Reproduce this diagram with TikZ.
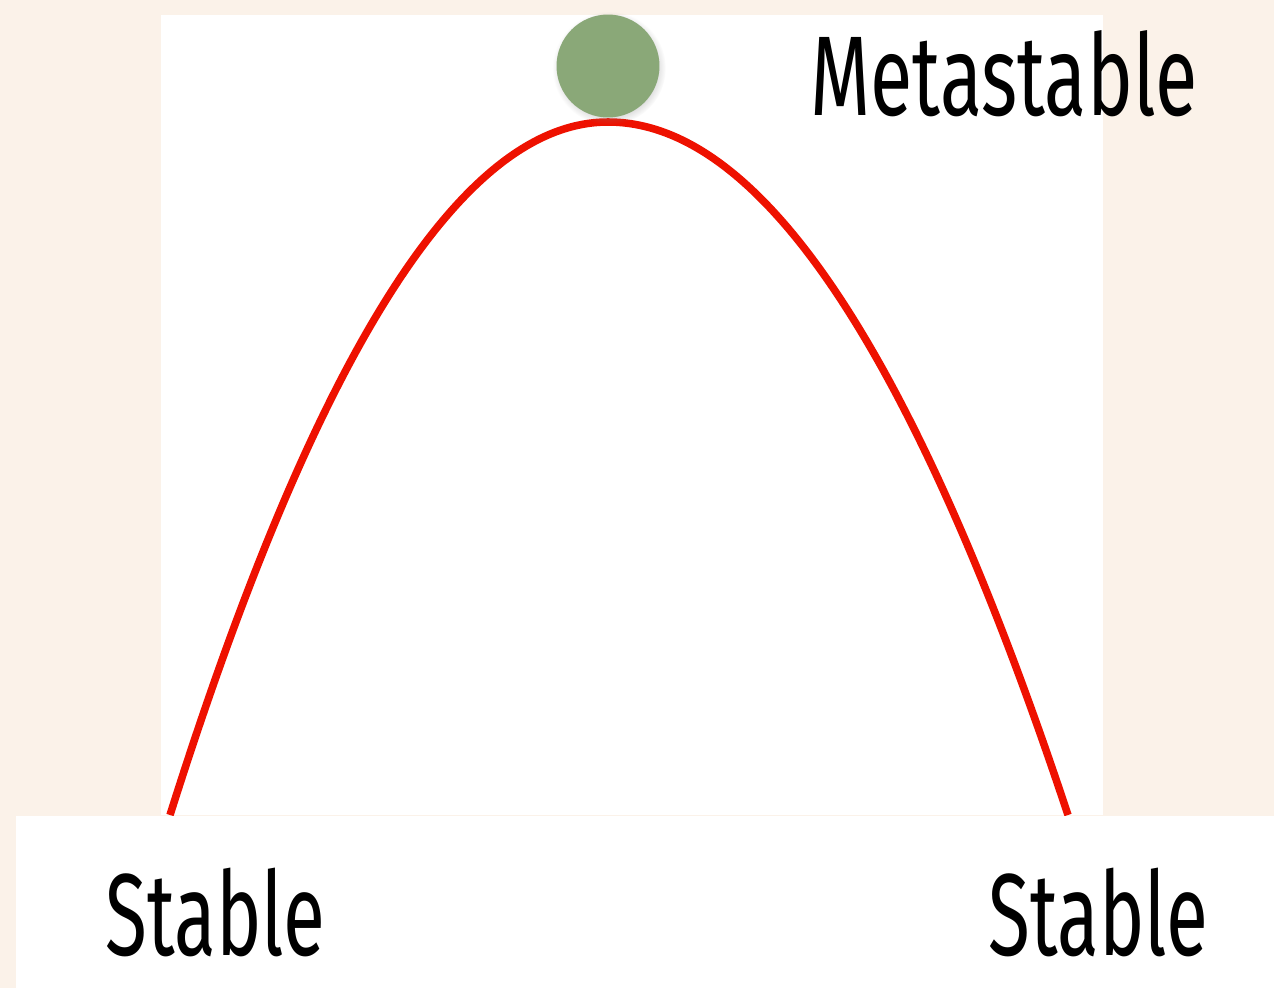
\documentclass[tikz,border=0pt]{standalone}
\usepackage{fontspec}
\setmainfont{Fira Sans}
\usepackage{graphicx}
\usetikzlibrary{shadows}
\definecolor{paper}{HTML}{FBF2E9}
\definecolor{curvered}{HTML}{EE1100}
\definecolor{ballgreen}{HTML}{8AA878}

\begin{document}
\begin{tikzpicture}[
  x=0.02cm, y=-0.02cm,
  panel/.style={fill=white, draw=none},
  ball/.style={circle, fill=ballgreen, minimum size=2.06cm, inner sep=0pt,
               circular drop shadow={shadow xshift=0.02cm, shadow yshift=-0.04cm, opacity=0.25}},
  curve/.style={curvered, line width=4.3pt},
  lbl/.style={inner sep=0pt, anchor=base west}
]
\fill[paper] (0,0) rectangle (1274,988);
\useasboundingbox (0,0) rectangle (1274,988);
\fill[panel] (161,15) rectangle (1103,815);
% energy curve
\draw[curve] plot[domain=-438:0, samples=60, smooth] ({608+\x}, {122+693*(\x/438)^2})
  -- plot[domain=0:460, samples=60, smooth] ({608+\x}, {122+693*(\x/460)^2});
\fill[panel] (16,816) rectangle (1274,988);
\node[ball] (top) at (608,66) {};
\node[lbl] (meta) at (810,115) {\resizebox{7.74cm}{1.7cm}{Metastable}};
\node[lbl] (left) at (105,955) {\resizebox{4.4cm}{1.75cm}{Stable}};
\node[lbl] (right) at (988,955) {\resizebox{4.4cm}{1.75cm}{Stable}};
\end{tikzpicture}
\end{document}
